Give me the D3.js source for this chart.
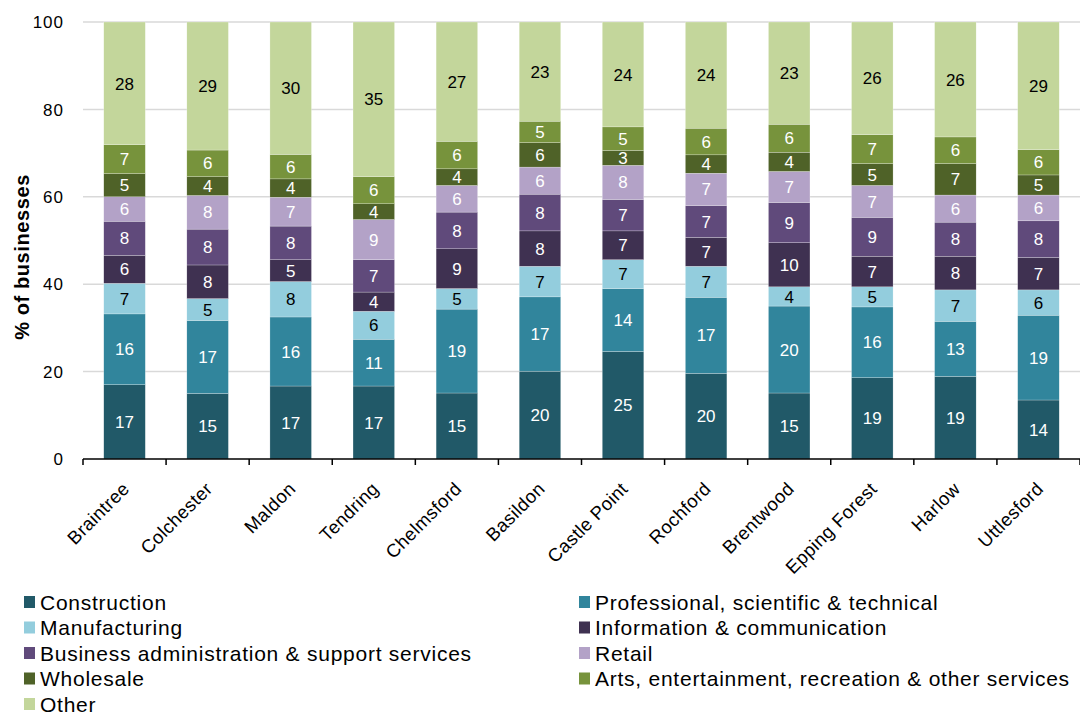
<!DOCTYPE html>
<html>
<head>
<meta charset="utf-8">
<script src="https://cdn.jsdelivr.net/npm/d3@7"></script>
<style>
  body { margin: 0; background: #fff; }
  svg { font-family: "Liberation Sans", Arial, sans-serif; }
</style>
</head>
<body>
<div id="chart"></div>
<script>
var regions = ["Braintree", "Colchester", "Maldon", "Tendring", "Chelmsford", "Basildon",
  "Castle Point", "Rochford", "Brentwood", "Epping Forest", "Harlow", "Uttlesford"];

var sectors = ["Construction", "Professional, scientific & technical", "Manufacturing",
  "Information & communication", "Business administration & support services", "Retail",
  "Wholesale", "Arts, entertainment, recreation & other services", "Other"];

// % of businesses per sector, one value per region (same order as regions)
var construction  = [17.0, 15.0, 16.7, 16.7, 15.1, 20.1, 24.6, 19.6, 15.1, 18.6, 18.9, 13.5];
var professional  = [16.2, 16.7, 15.8, 10.7, 19.2, 17.0, 14.4, 17.4, 19.9, 16.2, 12.6, 19.4];
var manufacturing = [ 7.0,  5.0,  8.1,  6.4,  4.7,  7.0,  6.6,  7.1,  4.4,  4.6,  7.2,  5.8];
var infoComm      = [ 6.4,  7.7,  5.0,  4.4,  9.1,  8.1,  6.6,  6.6, 10.1,  7.0,  7.7,  7.4];
var businessAdmin = [ 7.8,  8.2,  7.7,  7.4,  8.4,  8.4,  7.2,  7.3,  9.2,  8.9,  7.8,  8.4];
var retail        = [ 5.6,  7.7,  6.6,  9.2,  6.1,  6.2,  7.8,  7.4,  7.1,  7.3,  6.2,  5.9];
var wholesale     = [ 5.3,  4.3,  4.2,  3.6,  3.8,  5.6,  3.4,  4.2,  4.4,  5.0,  7.2,  4.6];
var arts          = [ 6.6,  6.1,  5.6,  6.2,  6.3,  4.9,  5.4,  6.1,  6.4,  6.6,  6.1,  5.8];
var other         = [28.1, 29.3, 30.3, 35.4, 27.3, 22.7, 24.0, 24.3, 23.4, 25.8, 26.3, 29.2];

var yTicks = [0, 20, 40, 60, 80, 100];

var colors = ["#215968", "#31859c", "#93cddd", "#3f3151", "#604a7b", "#b3a2c7",
  "#4f6228", "#77933c", "#c3d69b"];
var darkText = ["Manufacturing", "Other"];

var series = [construction, professional, manufacturing, infoComm, businessAdmin,
  retail, wholesale, arts, other];

var data = regions.map(function(r, i) {
  var row = {region: r};
  sectors.forEach(function(s, j) { row[s] = series[j][i]; });
  return row;
});

var margin = {top: 22, right: 0, bottom: 255, left: 83},
  width = 1080 - margin.left - margin.right,
  height = 714 - margin.top - margin.bottom;

var svg = d3.select("#chart").append("svg")
  .attr("width", 1080)
  .attr("height", 714);

var g = svg.append("g")
  .attr("transform", "translate(" + margin.left + "," + margin.top + ")");

var x = d3.scaleBand()
  .domain(regions)
  .range([0, width])
  .paddingInner(0.5)
  .paddingOuter(0.25);

var y = d3.scaleLinear()
  .domain([0, 100])
  .range([height, 0]);

var z = d3.scaleOrdinal()
  .domain(sectors)
  .range(colors);

// gridlines
g.selectAll(".grid")
  .data(yTicks.filter(function(d) { return d > 0; }))
  .enter().append("line")
    .attr("class", "grid")
    .attr("x1", 0)
    .attr("x2", width)
    .attr("y1", function(d) { return y(d); })
    .attr("y2", function(d) { return y(d); })
    .style("stroke", "#d9d9d9")
    .style("stroke-width", "1.5px");

var stacked = d3.stack().keys(sectors)(data);

var layer = g.selectAll(".serie")
  .data(stacked)
  .enter().append("g")
    .attr("class", "serie")
    .attr("fill", function(d) { return z(d.key); });

layer.selectAll("rect")
  .data(function(d) { return d; })
  .enter().append("rect")
    .attr("x", function(d) { return x(d.data.region); })
    .attr("width", x.bandwidth())
    .attr("y", function(d) { return y(d[1]); })
    .attr("height", function(d) { return y(d[0]) - y(d[1]); })
    .style("stroke", "#fff")
    .style("stroke-width", "0.4px")
    .style("stroke-opacity", 0.6);

layer.each(function(s) {
  d3.select(this).selectAll("text")
    .data(s)
    .enter().append("text")
      .attr("x", function(d) { return x(d.data.region) + x.bandwidth() / 2; })
      .attr("y", function(d) { return (y(d[0]) + y(d[1])) / 2; })
      .attr("dy", "0.36em")
      .attr("text-anchor", "middle")
      .style("font-size", "17px")
      .style("fill", darkText.indexOf(s.key) != -1 ? "#000" : "#fff")
      .text(function(d) { return d3.format(".0f")(d.data[s.key]); });
});

// x axis
var xAxis = g.append("g")
  .attr("transform", "translate(0," + height + ")");

xAxis.append("line")
  .attr("x1", 0)
  .attr("x2", width)
  .style("stroke", "#000")
  .style("stroke-width", "1.5px");

xAxis.selectAll(".tick")
  .data(d3.range(regions.length + 1))
  .enter().append("line")
    .attr("x1", function(i) { return i * x.step(); })
    .attr("x2", function(i) { return i * x.step(); })
    .attr("y1", 0)
    .attr("y2", 6)
    .style("stroke", "#000")
    .style("stroke-width", "1.5px");

xAxis.selectAll(".label")
  .data(regions)
  .enter().append("text")
    .attr("text-anchor", "end")
    .attr("transform", function(d) {
      return "translate(" + (x(d) + x.bandwidth() / 2 + 6) + ",31) rotate(-45)";
    })
    .style("font-size", "18.5px")
    .style("letter-spacing", "0.4px")
    .text(function(d) { return d; });

// y axis labels
g.selectAll(".ylabel")
  .data(yTicks)
  .enter().append("text")
    .attr("x", -19)
    .attr("y", function(d) { return y(d); })
    .attr("dy", "0.36em")
    .attr("text-anchor", "end")
    .style("font-size", "17px")
    .style("letter-spacing", "1px")
    .text(function(d) { return d; });

svg.append("text")
  .attr("transform", "translate(29,257) rotate(-90)")
  .attr("text-anchor", "middle")
  .style("font-size", "20px")
  .style("font-weight", "bold")
  .style("letter-spacing", "0.6px")
  .text("% of businesses");

// legend
var legend = svg.selectAll(".legend")
  .data(sectors)
  .enter().append("g")
    .attr("class", "legend")
    .attr("transform", function(d, i) {
      return "translate(" + (i % 2 === 0 ? 24 : 579) + "," + (602 + Math.floor(i / 2) * 25.5) + ")";
    });

legend.append("rect")
  .attr("x", 0)
  .attr("y", -6)
  .attr("width", 11)
  .attr("height", 12)
  .attr("fill", function(d) { return z(d); });

legend.append("text")
  .attr("x", 16)
  .attr("dy", "0.36em")
  .style("font-size", "21px")
  .style("letter-spacing", "0.75px")
  .text(function(d) { return d; });
</script>
</body>
</html>
